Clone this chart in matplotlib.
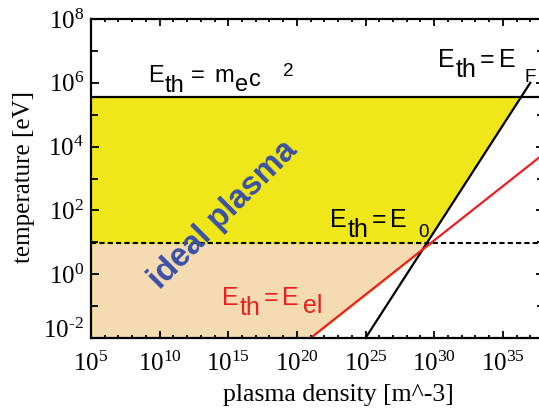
import matplotlib
matplotlib.use('Agg')
import matplotlib.pyplot as plt
import matplotlib.transforms as mtransforms
import numpy as np
from matplotlib.ticker import FixedLocator, FuncFormatter, NullFormatter

plt.rcParams['mathtext.fontset'] = 'custom'
plt.rcParams['mathtext.rm'] = 'Liberation Serif'
plt.rcParams['mathtext.sf'] = 'Liberation Sans'

# threshold levels [eV]
T_mc2 = 3.5e5   # E_th = m_e c^2
T_E0 = 9.5      # E_th = E_0

# E_th = E_F (Fermi energy) line
n_fermi = [1e25, 1e37]
T_fermi = [1e-2, 1e6]

# E_th = E_el line
n_el = [1e21, 1e38]
T_el = [1e-2, 6e3]

x_lim = (1e5, 1e38)
y_lim = (1e-2, 1e8)
x_major_exp = [5, 10, 15, 20, 25, 30, 35]
y_major_exp = [-2, 0, 2, 4, 6, 8]

yellow = '#f0e71a'
beige = '#f5dbb1'
red = '#ea1f22'
blue = '#3a50a8'


def loginterp(t, ts, ns):
    # position along a straight line in log-log space
    return 10 ** np.interp(np.log10(t), np.log10(ts), np.log10(ns))


def sci(v, pos):
    e = int(round(np.log10(v)))
    if e < 0:
        return r'$\mathrm{10^{\text{-}%d}}$' % -e
    return r'$\mathrm{10^{%d}}$' % e


fig = plt.figure(figsize=(5.39, 4.16), dpi=100)
ax = fig.add_axes([91 / 539, 78 / 416, 453 / 539, 319 / 416])
ax.set_xscale('log')
ax.set_yscale('log')
ax.set_xlim(*x_lim)
ax.set_ylim(*y_lim)


def rich_label(logx, logy, pieces, size, color='k'):
    # pieces: (text, size scale, vertical shift px, gap before px)
    renderer = fig.canvas.get_renderer()
    dx = 0.0
    for s, scale, dy, gap in pieces:
        t = ax.annotate(s, (10 ** logx, 10 ** logy), xytext=(dx + gap, dy),
                        textcoords='offset pixels', fontsize=size * scale,
                        family='Liberation Sans', color=color, va='baseline',
                        ha='left', annotation_clip=False)
        dx += gap + t.get_window_extent(renderer).width


# ideal plasma region (yellow) bounded by E_F line
t_up = np.logspace(np.log10(T_E0), np.log10(T_mc2), 100)
ax.fill_betweenx(t_up, x_lim[0], loginterp(t_up, T_fermi, n_fermi),
                 color=yellow, lw=0, zorder=1)
# lower region (beige) bounded by E_el line
t_lo = np.logspace(np.log10(y_lim[0]), np.log10(T_E0), 100)
ax.fill_betweenx(t_lo, x_lim[0], loginterp(t_lo, T_el, n_el),
                 facecolor=beige, edgecolor=yellow, lw=1.0, zorder=1)

ax.axhline(T_mc2, color='k', lw=1.6, zorder=3)
ax.axhline(T_E0, color='k', lw=1.5, ls=(0, (2.5, 1.5)), zorder=3)
ax.plot(n_fermi, T_fermi, color='k', lw=1.6, zorder=3, clip_on=False)
ax.plot(n_el, T_el, color=red, lw=1.6, zorder=3)

# text labels
rich_label(9.15, 6.03, [('E', 1, 0, 0), ('th', 1, -10, 1), ('=', 1, 0, 6),
                        ('m', 1, 0, 10), ('e', 1, -9, 1), ('c', 1, -4, 1),
                        ('2', 0.8, 6, 22)], 17)
rich_label(30.27, 6.5, [('E', 1, 0, 0), ('th', 1, -10, 1), ('=', 1, 0, 3),
                        ('E', 1, 0, 5), ('F', 0.75, -15, 9)], 18)
rich_label(22.41, 1.48, [('E', 1, 0, 0), ('th', 1, -10, 1), ('=', 1, 0, 3),
                         ('E', 1, 0, 4), ('0', 0.75, -10, 12)], 18)
rich_label(14.54, -0.97, [('E', 1, 0, 0), ('th', 1, -10, 1), ('=', 1, 0, 3),
                          ('E', 1, 0, 4), ('el', 1, -8, 4)], 18, color=red)
ax.text(10 ** 14.6, 10 ** 1.86, 'ideal plasma', family='Liberation Sans',
        fontsize=23.5, fontweight='bold', color=blue, rotation=45,
        rotation_mode='anchor', ha='center', va='center')

# ticks
fmt = FuncFormatter(sci)
ax.xaxis.set_major_locator(FixedLocator([10.0 ** e for e in x_major_exp]))
ax.xaxis.set_minor_locator(FixedLocator([10.0 ** e for e in range(5, 39)]))
ax.yaxis.set_major_locator(FixedLocator([10.0 ** e for e in y_major_exp]))
ax.yaxis.set_minor_locator(FixedLocator([10.0 ** e for e in range(-2, 9)]))
ax.xaxis.set_major_formatter(fmt)
ax.yaxis.set_major_formatter(fmt)
ax.xaxis.set_minor_formatter(NullFormatter())
ax.yaxis.set_minor_formatter(NullFormatter())
ax.tick_params(which='both', direction='in', top=True, right=True,
               width=1.3, labelsize=18)
ax.tick_params(axis='x', which='major', length=5, pad=10)
ax.tick_params(axis='x', which='minor', length=2.5)
ax.tick_params(axis='y', which='major', length=6, pad=5)
ax.tick_params(axis='y', which='minor', length=5)
ax.set_axisbelow(False)
for s in ax.spines.values():
    s.set_linewidth(1.6)
    s.set_zorder(4)

# lift the lowest y label a little, as in the original
lowest = ax.yaxis.get_major_ticks()[0].label1
lowest.set_transform(lowest.get_transform() +
                     mtransforms.ScaledTranslation(0, 7 / 72, fig.dpi_scale_trans))

ax.set_xlabel('plasma density [m^-3]', family='Liberation Serif', fontsize=18.5)
ax.set_ylabel('temperature [eV]', family='Liberation Serif', fontsize=18)
ax.xaxis.set_label_coords((338 - 91) / 453, (338 - 384) / 319)
ax.yaxis.set_label_coords((35 - 91) / 453, (338 - 177) / 319)

fig.savefig('out.png', dpi=100)
